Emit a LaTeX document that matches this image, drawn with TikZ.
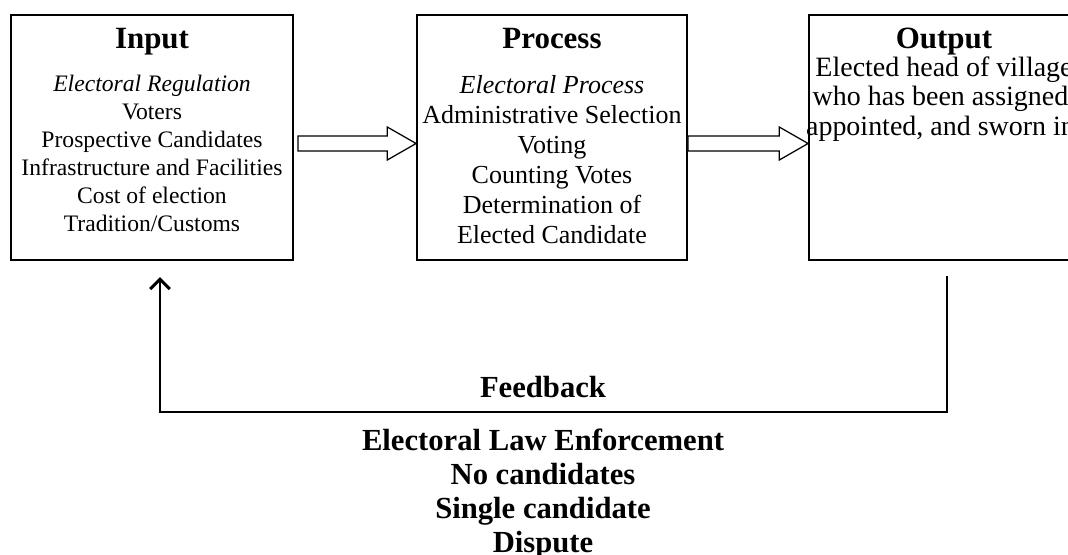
\documentclass[tikz,border=0pt]{standalone}
\usepackage{fontspec}
\setmainfont{Liberation Serif}
\usetikzlibrary{arrows.meta,positioning,calc}

% hollow block arrow from #1 (tail) to #2 (tip)
\newcommand{\blockarrow}[2]{%
  \draw[hollow] ($(#1)+(0,0.1875)$) -- ($(#2)+(-0.72,0.1875)$) -- ($(#2)+(-0.72,0.4125)$)
    -- (#2) -- ($(#2)+(-0.72,-0.4125)$) -- ($(#2)+(-0.72,-0.1875)$) -- ($(#1)+(0,-0.1875)$) -- cycle;}

\begin{document}
\begin{tikzpicture}[
    block/.style={rectangle, draw=black, line width=1.3pt, minimum width=6.75cm, minimum height=6.125cm},
    heading/.style={font=\fontsize{22}{26}\selectfont\bfseries, inner sep=0pt, anchor=base},
    body/.style={anchor=north, align=center, inner sep=0pt},
    hollow/.style={draw=black, line width=0.9pt, fill=white, line join=miter},
    feed/.style={line width=1.2pt},
    feedtext/.style={font=\fontsize{21.8}{24.2}\selectfont\bfseries, align=center, inner sep=0pt}
]

% Frame
\useasboundingbox (0,0) rectangle (26.7,-13.85);
\clip (0,0) rectangle (26.7,-13.85);

% Boxes
\node[block, minimum width=7.05cm] (input) at (3.8,-3.4375) {};
\node[block] (process) at (13.8,-3.4375) {};
\node[block] (output) at (23.6,-3.4375) {};

% Headings
\node[heading] (inputT) at ([yshift=-0.87cm]input.north) {Input};
\node[heading] (processT) at ([yshift=-0.87cm]process.north) {Process};
\node[heading] (outputT) at ([yshift=-0.87cm]output.north) {Output};

% Box texts
\node[body, font=\fontsize{16.8}{19.9}\selectfont] (inputB) at ([yshift=-1.525cm]input.north)
  {\textit{Electoral Regulation}\\Voters\\Prospective Candidates\\Infrastructure and Facilities\\Cost of election\\Tradition/Customs};
\node[body, font=\fontsize{18.5}{21.3}\selectfont] (processB) at ([yshift=-1.525cm]process.north)
  {\textit{Electoral Process}\\Administrative Selection\\Voting\\Counting Votes\\Determination of\\Elected Candidate};
\node[body, font=\fontsize{19.9}{21}\selectfont] (outputB) at ([yshift=-1.05cm]output.north)
  {Elected head of village\\who has been assigned,\\appointed, and sworn in.};

% Hollow arrows
\coordinate (a1s) at ([xshift=0.1cm,yshift=-0.15cm]input.east);
\coordinate (a1e) at ([yshift=-0.15cm]process.west);
\coordinate (a2s) at ([yshift=-0.15cm]process.east);
\coordinate (a2e) at ([yshift=-0.15cm]output.west);
\blockarrow{a1s}{a1e}
\blockarrow{a2s}{a2e}

% Feedback loop
\coordinate (fbTop) at (23.675,-6.9);
\coordinate (fbTip) at (4.0,-6.925);
\draw[feed, -{Straight Barb[length=7pt,width=14pt,line width=2.2pt]}] (fbTop) -- ++(0,-3.4) -| (fbTip);

% Feedback labels
\node[feedtext, anchor=base] (fbLabel) at (13.575,-9.925) {Feedback};
\node[feedtext, anchor=north] (fbList) at (13.575,-10.725)
  {Electoral Law Enforcement\\No candidates\\Single candidate\\Dispute};

\end{tikzpicture}
\end{document}
